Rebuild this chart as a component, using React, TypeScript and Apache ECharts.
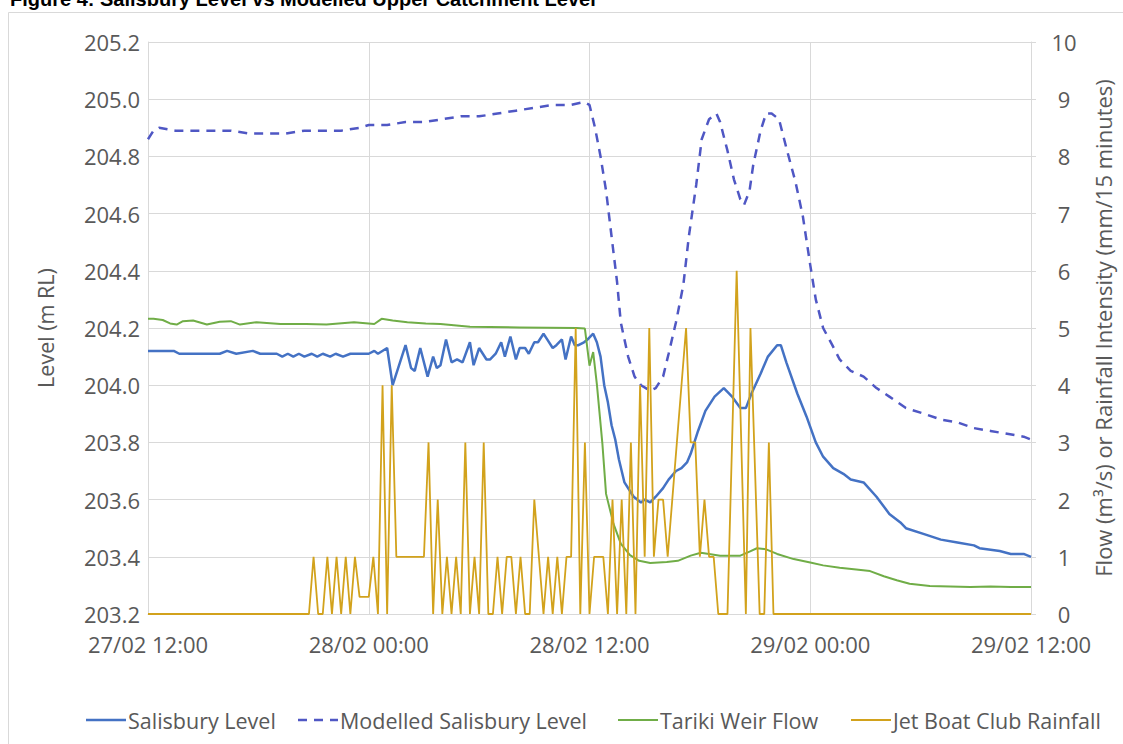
import React, { useEffect, useRef } from "react";
import * as echarts from "echarts";

// x values are hours since 27/02 12:00
const xTickLabels = ["27/02 12:00", "28/02 00:00", "28/02 12:00", "29/02 00:00", "29/02 12:00"];
const seriesNames = ["Salisbury Level", "Modelled Salisbury Level", "Tariki Weir Flow", "Jet Boat Club Rainfall"];

// Salisbury Level (m RL) – [hour, level]
const salisburyLevel: number[][] = [
  [0, 204.12], [1.4, 204.12], [1.7, 204.11], [3.9, 204.11], [4.3, 204.12], [4.8, 204.11], [5.7, 204.12],
  [6.1, 204.11], [7.0, 204.11], [7.3, 204.10], [7.6, 204.11], [7.9, 204.10], [8.2, 204.11], [8.5, 204.10],
  [8.9, 204.11], [9.2, 204.10], [9.5, 204.11], [9.9, 204.10], [10.2, 204.11], [10.6, 204.10], [11.0, 204.11],
  [12.0, 204.11], [12.3, 204.12], [12.5, 204.11], [13.0, 204.13], [13.3, 204.0], [14.0, 204.14], [14.3, 204.06],
  [14.5, 204.05], [14.8, 204.13], [15.2, 204.03], [15.5, 204.10], [15.7, 204.06], [15.9, 204.07], [16.2, 204.16],
  [16.5, 204.08], [16.8, 204.09], [17.1, 204.08], [17.5, 204.15], [17.7, 204.07], [18.0, 204.13], [18.4, 204.09],
  [18.6, 204.09], [18.9, 204.11], [19.2, 204.15], [19.4, 204.10], [19.7, 204.17], [20.0, 204.09], [20.2, 204.13],
  [20.5, 204.13], [20.7, 204.11], [21.0, 204.15], [21.2, 204.15], [21.5, 204.18], [21.7, 204.16], [22.0, 204.13],
  [22.2, 204.14], [22.5, 204.16], [22.7, 204.09], [23.0, 204.17], [23.2, 204.14], [23.4, 204.14], [23.7, 204.15],
  [23.9, 204.16], [24.2, 204.18], [24.4, 204.15], [24.6, 204.10], [24.8, 204.0], [25.0, 203.94], [25.2, 203.86],
  [25.4, 203.81], [25.6, 203.74], [25.9, 203.66], [26.2, 203.63], [26.4, 203.61], [26.8, 203.59], [27.0, 203.60],
  [27.3, 203.59], [27.6, 203.61], [28.0, 203.64], [28.3, 203.67], [28.7, 203.70], [29.0, 203.71], [29.3, 203.73],
  [29.5, 203.76], [29.9, 203.84], [30.3, 203.91], [30.8, 203.96], [31.3, 203.99], [31.75, 203.96], [32.2, 203.92],
  [32.5, 203.92], [32.8, 203.97], [33.3, 204.04], [33.7, 204.10], [34.2, 204.14], [34.4, 204.14], [34.7, 204.08],
  [35.3, 203.97], [35.8, 203.89], [36.3, 203.80], [36.7, 203.75], [37.25, 203.71], [37.8, 203.69], [38.2, 203.67],
  [38.9, 203.66], [39.6, 203.61], [40.3, 203.55], [40.9, 203.52], [41.2, 203.50], [42.15, 203.48], [43.1, 203.46],
  [44.0, 203.45], [44.9, 203.44], [45.2, 203.43], [46.3, 203.42], [46.9, 203.41], [47.6, 203.41], [48.0, 203.40],
];

// Modelled Salisbury Level (m RL) – [hour, level]
const modelledLevel: number[][] = [
  [0, 204.86], [0.3, 204.89], [0.6, 204.90], [1.5, 204.89], [2.5, 204.89], [3.5, 204.89], [4.5, 204.89],
  [5.5, 204.88], [6.5, 204.88], [7.5, 204.88], [8.5, 204.89], [9.5, 204.89], [10.5, 204.89], [11.5, 204.90],
  [12.0, 204.91], [13.0, 204.91], [14.0, 204.92], [15.0, 204.92], [16.0, 204.93], [17.0, 204.94], [18.0, 204.94],
  [19.0, 204.95], [20.0, 204.96], [21.0, 204.97], [22.0, 204.98], [23.0, 204.98], [23.7, 204.99], [24.0, 204.98],
  [24.3, 204.90], [24.6, 204.80], [24.9, 204.68], [25.2, 204.52], [25.5, 204.36], [25.7, 204.22], [26.1, 204.10],
  [26.45, 204.03], [26.8, 204.0], [27.3, 203.98], [27.6, 203.99], [28.0, 204.03], [28.3, 204.11], [28.7, 204.22],
  [29.1, 204.35], [29.4, 204.52], [29.8, 204.70], [30.1, 204.86], [30.5, 204.93], [30.9, 204.95], [31.1, 204.92],
  [31.5, 204.82], [31.85, 204.72], [32.2, 204.65], [32.4, 204.63], [32.7, 204.68], [32.9, 204.77], [33.3, 204.89],
  [33.6, 204.95], [33.9, 204.95], [34.3, 204.93], [34.7, 204.83], [35.2, 204.71], [35.6, 204.59], [36.0, 204.42],
  [36.3, 204.30], [36.7, 204.20], [37.2, 204.14], [37.6, 204.09], [38.2, 204.05], [38.9, 204.03], [39.6, 203.99],
  [40.3, 203.96], [41.2, 203.92], [42.2, 203.90], [43.1, 203.88], [44.0, 203.87], [44.9, 203.85], [45.8, 203.84],
  [46.7, 203.83], [47.6, 203.82], [48.0, 203.81],
];

// Tariki Weir Flow (m3/s) – [hour, flow]
const tarikiFlow: number[][] = [
  [0, 5.16], [0.3, 5.16], [0.8, 5.14], [1.2, 5.08], [1.56, 5.06], [1.9, 5.12], [2.45, 5.13], [3.2, 5.06],
  [3.9, 5.11], [4.5, 5.12], [5.0, 5.06], [5.9, 5.10], [7.2, 5.07], [8.6, 5.07], [9.7, 5.06], [11.2, 5.10],
  [12.3, 5.07], [12.7, 5.16], [13.3, 5.13], [14.1, 5.10], [15.1, 5.08], [15.9, 5.07], [17.5, 5.02], [20.2, 5.01],
  [23.3, 5.0], [23.75, 4.99], [23.9, 4.60], [24.0, 4.34], [24.2, 4.58], [24.4, 4.02], [24.7, 2.98], [24.9, 2.10],
  [25.3, 1.58], [25.7, 1.23], [26.2, 1.03], [26.7, 0.93], [27.3, 0.89], [28.2, 0.91], [28.8, 0.93], [29.5, 1.02],
  [30.05, 1.07], [30.5, 1.05], [31.1, 1.02], [32.2, 1.02], [32.7, 1.09], [33.1, 1.15], [33.6, 1.13], [34.2, 1.05],
  [35.1, 0.96], [36.0, 0.90], [36.7, 0.85], [37.6, 0.81], [38.5, 0.78], [39.25, 0.75], [40.0, 0.66], [40.7, 0.59],
  [41.4, 0.53], [42.5, 0.49], [43.6, 0.48], [44.7, 0.47], [45.8, 0.48], [46.9, 0.47], [48.0, 0.47],
];

// Jet Boat Club Rainfall (mm / 15 minutes) – [quarter-hour index, mm]; zero elsewhere
const rainfallQuarterly: number[][] = [
  [0, 0], [35, 0], [36, 1], [37, 0], [38, 0], [39, 1], [40, 0], [41, 1], [42, 0], [43, 1], [44, 0], [45, 1],
  [46, 0.3], [47, 0.3], [48, 0.3], [49, 1], [50, 0], [51, 4], [52, 0], [53, 4], [54, 1], [55, 1], [56, 1],
  [57, 1], [58, 1], [59, 1], [60, 1], [61, 3], [62, 0], [63, 2], [64, 0], [65, 1], [66, 0], [67, 1], [68, 0],
  [69, 3], [70, 0], [71, 1], [72, 0], [73, 3], [74, 0], [75, 0], [76, 1], [77, 0], [78, 1], [79, 1], [80, 0],
  [81, 1], [82, 0], [83, 0], [84, 2], [85, 1], [86, 0], [87, 1], [88, 0], [89, 1], [90, 0], [91, 1], [92, 1],
  [93, 5], [94, 0], [95, 3], [96, 0], [97, 1], [98, 1], [99, 1], [100, 0], [101, 2], [102, 0], [103, 2],
  [104, 0], [105, 3], [106, 0], [107, 4], [108, 1], [109, 5], [110, 1], [111, 2], [112, 2], [113, 1], [114, 2],
  [115, 3], [116, 4], [117, 5], [118, 3], [119, 3], [120, 1], [121, 2], [122, 1], [123, 1], [124, 0], [125, 0],
  [126, 0], [127, 3], [128, 6], [129, 3], [130, 0], [131, 5], [132, 2.5], [133, 0], [134, 0], [135, 3],
  [136, 0], [192, 0],
];

const titleText = "Figure 4: Salisbury Level vs Modelled Upper Catchment Level";

const COLORS = ["#4472C4", "#4F57C4", "#70AD47", "#D2A21C"];
const WIDTHS = [2.5, 2.5, 2, 1.8];
const DASHES: (number[] | null)[] = [null, [9, 7], null, null];

export default function App() {
  const ref = useRef<HTMLDivElement>(null);

  useEffect(() => {
    if (!ref.current) return;
    const chart = echarts.init(ref.current, undefined, { renderer: "svg" });
    const font = "Open Sans";
    const gridColor = "#D9D9D9";
    const textColor = "#595959";

    // manual legend (line samples without markers, as in the reference)
    const legendSampleX = [86, 298, 618, 851];
    const legendY = 720;
    const legendGraphics: any[] = [];
    seriesNames.forEach((name, i) => {
      legendGraphics.push({
        type: "line",
        silent: true,
        shape: { x1: legendSampleX[i], y1: legendY, x2: legendSampleX[i] + 40, y2: legendY },
        style: {
          stroke: COLORS[i],
          lineWidth: WIDTHS[i],
          lineDash: DASHES[i] ?? undefined,
        },
      });
      legendGraphics.push({
        type: "text",
        silent: true,
        x: legendSampleX[i] + 42,
        y: legendY,
        style: {
          text: name,
          font: `21.5px "${font}"`,
          fill: textColor,
          verticalAlign: "middle",
          align: "left",
        },
      });
    });

    const option: any = {
      animation: false,
      backgroundColor: "#ffffff",
      grid: { left: 148, right: 92, top: 42, bottom: 130, containLabel: false },
      graphic: [
        {
          type: "rect",
          silent: true,
          z: -10,
          shape: { x: 8.5, y: 12.5, width: 1200, height: 800 },
          style: { fill: "none", stroke: "#D9D9D9", lineWidth: 1 },
        },
        {
          type: "text",
          silent: true,
          x: 10,
          y: 9,
          style: {
            text: titleText,
            font: 'bold 20px "Liberation Sans"',
            fill: "#000000",
            verticalAlign: "bottom",
          },
        },
        ...legendGraphics,
      ],
      xAxis: {
        type: "value",
        min: 0,
        max: 48,
        interval: 12,
        axisLine: { show: true, lineStyle: { color: gridColor, width: 1 } },
        axisTick: { show: false },
        splitLine: { show: true, lineStyle: { color: gridColor, width: 1 } },
        axisLabel: {
          margin: 19,
          fontFamily: font,
          fontSize: 22,
          color: textColor,
          formatter: (v: number) => xTickLabels[Math.round(v / 12)] ?? "",
        },
      },
      yAxis: [
        {
          type: "value",
          min: 203.2,
          max: 205.2,
          interval: 0.2,
          name: "Level (m RL)",
          nameLocation: "middle",
          nameRotate: 90,
          nameGap: 92,
          nameTextStyle: { fontFamily: font, fontSize: 21.5, color: textColor },
          axisLine: { show: true, lineStyle: { color: gridColor } },
          axisTick: { show: false },
          splitLine: { show: true, lineStyle: { color: gridColor, width: 1 } },
          axisLabel: {
            margin: 8,
            fontFamily: font,
            fontSize: 22,
            color: textColor,
            formatter: (v: number) => v.toFixed(1),
          },
        },
        {
          type: "value",
          min: 0,
          max: 10,
          interval: 1,
          position: "right",
          name: "Flow (m³/s) or Rainfall Intensity (mm/15 minutes)",
          nameLocation: "middle",
          nameRotate: 90,
          nameGap: 61,
          nameTextStyle: { fontFamily: font, fontSize: 22, color: textColor },
          axisLine: { show: true, lineStyle: { color: gridColor } },
          axisTick: { show: true, length: 5, lineStyle: { color: gridColor } },
          splitLine: { show: false },
          axisLabel: {
            margin: 33,
            align: "center",
            fontFamily: font,
            fontSize: 22,
            color: textColor,
          },
        },
      ],
      series: [
        {
          name: seriesNames[0],
          type: "line",
          yAxisIndex: 0,
          data: salisburyLevel,
          symbol: "none",
          showSymbol: false,
          lineStyle: { color: COLORS[0], width: WIDTHS[0] },
          itemStyle: { color: COLORS[0] },
        },
        {
          name: seriesNames[1],
          type: "line",
          yAxisIndex: 0,
          data: modelledLevel,
          symbol: "none",
          showSymbol: false,
          lineStyle: { color: COLORS[1], width: WIDTHS[1], type: DASHES[1] },
          itemStyle: { color: COLORS[1] },
        },
        {
          name: seriesNames[2],
          type: "line",
          yAxisIndex: 1,
          data: tarikiFlow,
          symbol: "none",
          showSymbol: false,
          lineStyle: { color: COLORS[2], width: WIDTHS[2] },
          itemStyle: { color: COLORS[2] },
        },
        {
          name: seriesNames[3],
          type: "line",
          yAxisIndex: 1,
          data: rainfallQuarterly.map(([q, v]) => [q / 4, v]),
          symbol: "none",
          showSymbol: false,
          lineStyle: { color: COLORS[3], width: WIDTHS[3] },
          itemStyle: { color: COLORS[3] },
        },
      ],
    };

    chart.setOption(option);
    return () => chart.dispose();
  }, []);

  return (
    <div
      ref={ref}
      style={{ position: "fixed", left: 0, top: 0, width: 1123, height: 744, background: "#ffffff" }}
    />
  );
}
